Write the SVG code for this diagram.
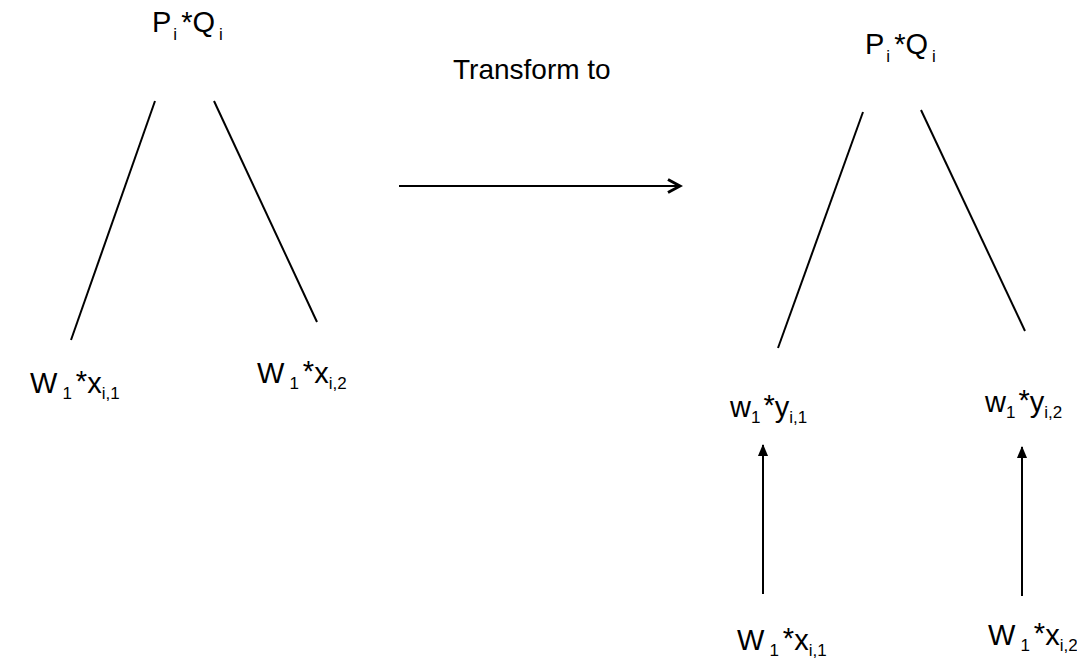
<svg xmlns="http://www.w3.org/2000/svg" width="1077" height="665" viewBox="0 0 1077 665">
<style>
text{font-family:"Liberation Sans",Arial,sans-serif;font-size:29px;fill:#000}
.s{font-size:17px}
.t{font-size:28px}
line{stroke:#000;stroke-width:2;fill:none}
</style>
<defs>
<marker id="open" markerWidth="16" markerHeight="16" refX="13" refY="8" orient="auto" markerUnits="userSpaceOnUse" viewBox="0 0 16 16">
<path d="M1,1.5 L13,8 L1,14.5" fill="none" stroke="#000" stroke-width="3"/>
</marker>
<marker id="tri" markerWidth="12" markerHeight="14" refX="12" refY="5.5" orient="auto" markerUnits="userSpaceOnUse" viewBox="0 0 13 11">
<path d="M0,0 L13,5.5 L0,11 Z" fill="#000"/>
</marker>
</defs>
<g id="connectors">
<line x1="155" y1="101" x2="71" y2="340"/>
<line x1="214" y1="101" x2="317" y2="322"/>
<line x1="399" y1="186" x2="680" y2="186" stroke-width="2.5" marker-end="url(#open)"/>
<line x1="863" y1="112" x2="778" y2="348"/>
<line x1="921" y1="110" x2="1025" y2="331"/>
<line x1="763" y1="594" x2="763" y2="445" marker-end="url(#tri)"/>
<line x1="1022" y1="596" x2="1022" y2="447" marker-end="url(#tri)"/>
</g>
<g id="top-left"><text x="152" y="32">P<tspan class="s" dx="2" dy="8">i</tspan><tspan dx="4" dy="-8">*Q</tspan><tspan class="s" dx="4" dy="8">i</tspan></text></g>
<g id="left-x1"><text x="30" y="393">W<tspan class="s" dx="5" dy="6">1</tspan><tspan dx="4" dy="-8">*</tspan><tspan dy="2">x</tspan><tspan class="s" dy="6">i,1</tspan></text></g>
<g id="left-x2"><text x="257" y="383">W<tspan class="s" dx="5" dy="6">1</tspan><tspan dx="4" dy="-8">*</tspan><tspan dy="2">x</tspan><tspan class="s" dy="6">i,2</tspan></text></g>
<g id="transform-label"><text class="t" x="453" y="79">Transform to</text></g>
<g id="top-right"><text x="865" y="54">P<tspan class="s" dx="2" dy="8">i</tspan><tspan dx="4" dy="-8">*Q</tspan><tspan class="s" dx="4" dy="8">i</tspan></text></g>
<g id="right-y1"><text x="730" y="417">w<tspan class="s" dy="6">1</tspan><tspan dx="3" dy="-8">*</tspan><tspan dy="2">y</tspan><tspan class="s" dy="6">i,1</tspan></text></g>
<g id="right-y2"><text x="985" y="412">w<tspan class="s" dy="6">1</tspan><tspan dx="3" dy="-8">*</tspan><tspan dy="2">y</tspan><tspan class="s" dy="6">i,2</tspan></text></g>
<g id="bottom-x1"><text x="737" y="650">W<tspan class="s" dx="5" dy="6">1</tspan><tspan dx="4" dy="-8">*</tspan><tspan dy="2">x</tspan><tspan class="s" dy="6">i,1</tspan></text></g>
<g id="bottom-x2"><text x="988" y="645">W<tspan class="s" dx="5" dy="6">1</tspan><tspan dx="4" dy="-8">*</tspan><tspan dy="2">x</tspan><tspan class="s" dy="6">i,2</tspan></text></g>
</svg>
